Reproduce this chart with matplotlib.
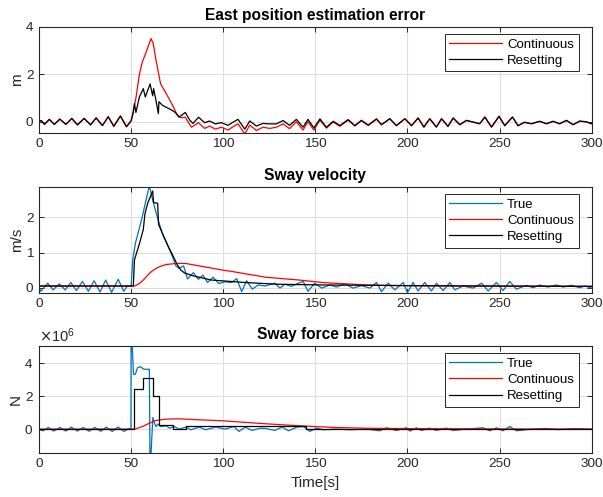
import matplotlib
matplotlib.use("Agg")
import matplotlib.pyplot as plt
from matplotlib.ticker import ScalarFormatter

plt.rcParams['font.family'] = ['Liberation Sans', 'DejaVu Sans']

# ---------------- Panel 1: East position estimation error [m] ----------------
east_cont_t = [0, 1.2, 3, 5.6, 8.3, 11.3, 14.6, 17.8, 20.9, 24.5, 28, 31, 34.4, 37.6, 40.6, 44.2, 47.5, 50,
               51, 52.7, 54.5, 56, 58, 60.8, 62, 63.5, 66, 69, 72.5, 75, 77, 79.4, 82.7, 86.6, 89.9, 92.6,
               95.7, 99, 102.6, 105.3, 108, 111.7, 114.4, 118, 121.6, 125.2, 128.8, 132.5, 136, 139.7,
               143.3, 146, 149.2, 152.5, 156, 159.7, 163.3, 167.8, 171.4, 175, 178.7, 183.2, 185.9, 190.4,
               194, 198.6, 202.2, 205.8, 208.9, 212.1, 215.7, 218.5, 222, 224.8, 228.4, 232, 235.6, 239.2,
               242, 245.6, 249.7, 252.8, 257, 260, 263.6, 267.3, 271.8, 275.4, 279, 282.6, 286.3, 289.9,
               293.5, 297, 300]
east_cont = [0.04, 0.06, -0.1, 0.11, -0.1, 0.12, -0.1, 0.15, -0.12, 0.15, -0.12, 0.17, -0.15, 0.22, -0.18, 0.25, -0.2, 0.05,
             0.35, 1.05, 2.0, 2.5, 2.9, 3.5, 3.3, 2.6, 1.6, 1.2, 0.7, 0.3, 0.18, 0.2, -0.22, -0.03, -0.27, -0.17,
             -0.3, -0.22, -0.34, -0.2, -0.08, -0.5, -0.13, -0.36, -0.22, -0.27, -0.22, -0.08, -0.28, 0.01,
             -0.34, 0.01, -0.34, 0.08, -0.26, 0.0, -0.18, 0.08, -0.17, 0.05, -0.15, 0.12, -0.12, 0.13,
             -0.16, 0.13, -0.16, 0.16, -0.22, 0.13, -0.22, 0.13, -0.19, 0.16, -0.12, 0.06, -0.01, -0.08,
             0.2, -0.22, 0.23, -0.16, 0.2, -0.16, -0.02, -0.08, 0.02, -0.08, 0.02, -0.08, 0.06, -0.12,
             0.03, 0.0, -0.08]

east_reset_t = [0, 1.2, 3, 5.6, 8.3, 11.3, 14.6, 17.8, 20.9, 24.5, 28, 31, 34.4, 37.6, 40.6, 44.2, 47.5, 50,
                51, 51.8, 52.6, 54.5, 56.6, 57.7, 60.3, 61.7, 62.2, 63.5, 64.8, 65.1, 67, 72, 74, 76, 79.4,
                81.8, 83.6, 86.6, 89.9, 92.6, 95.7, 99, 102.6, 105.3, 108, 111.7, 114.4, 118, 121.6, 125.2,
                128.8, 132.5, 136, 139.7, 143.3, 146, 149.2, 152.5, 156, 159.7, 163.3, 167.8, 171.4, 175,
                178.7, 183.2, 185.9, 190.4, 194, 198.6, 202.2, 205.8, 208.9, 212.1, 215.7, 218.5, 222, 224.8,
                228.4, 232, 235.6, 239.2, 242, 245.6, 249.7, 252.8, 257, 260, 263.6, 267.3, 271.8, 275.4,
                279, 282.6, 286.3, 289.9, 293.5, 297, 300]
east_reset = [0.04, 0.06, -0.1, 0.11, -0.1, 0.12, -0.1, 0.15, -0.12, 0.15, -0.12, 0.17, -0.15, 0.22, -0.18, 0.25, -0.2, 0.05,
              0.35, 0.77, 0.4, 1.05, 1.4, 1.05, 1.6, 1.1, 1.4, 0.9, 0.35, 0.85, 0.7, 0.5, 0.4, 0.2, 0.4,
              0.08, -0.06, 0.2, -0.03, 0.04, -0.08, -0.03, -0.14, -0.01, 0.11, -0.3, 0.04, -0.17, -0.06, -0.08,
              -0.08, 0.06, -0.14, 0.11, -0.22, 0.11, -0.25, 0.13, -0.22, 0.03, -0.15, 0.1, -0.15, 0.07,
              -0.13, 0.13, -0.11, 0.14, -0.15, 0.14, -0.15, 0.17, -0.21, 0.14, -0.21, 0.14, -0.18, 0.17,
              -0.11, 0.07, 0.0, -0.07, 0.21, -0.21, 0.24, -0.15, 0.21, -0.15, -0.01, -0.07, 0.03, -0.07,
              0.03, -0.07, 0.07, -0.11, 0.04, 0.01, -0.07]

# ---------------- Panel 2: Sway velocity [m/s] ----------------
vel_true_t = [0, 1, 4.7, 7.7, 11, 14.2, 17.3, 20.3, 23.6, 26.8, 29.9, 33.1, 36.2, 39.4, 43, 46, 47.8, 50,
              50.9, 52.3, 55.9, 57.7, 59.9, 61.7, 64.4, 67, 69.8, 72.5, 74.3, 76, 78.5, 80.6, 83.8, 86.5,
              89, 91.5, 94.5, 97.5, 101, 104.6, 107.3, 110, 112.7, 115.8, 119, 122.7, 128, 130.8, 133.5,
              137, 140.8, 143.4, 146, 149.7, 153.4, 157.9, 161.5, 166, 170.5, 175, 179.6, 183.2, 185.9,
              189.5, 193.1, 197.7, 200, 203, 205.8, 209.4, 213, 215.7, 219.4, 223, 225.7, 230.2, 235.6,
              240.2, 243.8, 248.3, 251.9, 255.5, 259.1, 264.6, 268.2, 271.8, 276.3, 280.8, 284.5, 289,
              293.5, 296.2, 300]
vel_true = [0, -0.1, 0.13, -0.06, 0.11, -0.06, 0.15, -0.08, 0.18, -0.1, 0.2, -0.12, 0.22, -0.13, 0.24, -0.1, 0.04, 0.05,
            0.8, 1.26, 1.98, 2.4, 2.9, 2.49, 1.97, 1.54, 1.21, 0.88, 0.62, 0.55, 0.62, 0.25, 0.43, 0.24,
            0.36, 0.15, 0.3, 0.12, 0.17, 0.15, 0.26, -0.11, 0.2, -0.04, 0.08, 0.05, 0.13, -0.01, 0.1,
            0.04, 0.13, 0.18, -0.1, 0.13, -0.01, 0.08, 0.02, 0.11, -0.01, 0.06, -0.01, 0.15, -0.11,
            0.13, -0.06, 0.15, -0.14, 0.15, -0.09, 0.15, -0.09, 0.13, -0.08, 0.15, -0.06, 0.05, -0.01,
            0.13, -0.09, 0.15, -0.08, 0.18, -0.04, 0.07, 0.0, 0.08, 0.02, 0.08, 0.02, 0.07,
            0.0, 0.05, -0.01]

vel_cont_t = [0, 52, 54.5, 57, 59, 61, 63.5, 66, 69, 74.3, 79.7, 87, 100, 105, 123, 141, 154, 160, 178,
              200, 225, 250, 300]
vel_cont = [0.05, 0.05, 0.12, 0.24, 0.36, 0.46, 0.55, 0.61, 0.66, 0.69, 0.69, 0.62, 0.5, 0.46, 0.3,
            0.22, 0.15, 0.13, 0.08, 0.06, 0.05, 0.045, 0.04]

vel_reset_t = [0, 51.2, 51.8, 54.5, 56.6, 57.5, 59, 61.7, 62.2, 64.4, 64.9, 67, 69.8, 72.5, 75.2, 77,
               79, 83.6, 93.5, 111.6, 129.7, 154, 200, 250, 300]
vel_reset = [0.05, 0.05, 0.79, 1.25, 1.65, 2.1, 2.4, 2.75, 2.42, 2.4, 1.8, 1.54, 1.21, 0.93, 0.64, 0.5,
             0.42, 0.34, 0.22, 0.15, 0.1, 0.08, 0.06, 0.05, 0.04]

# ---------------- Panel 3: Sway force bias [N] (x 1e6) ----------------
force_true_t = [0, 2.3, 5, 8, 11.3, 14.6, 17.6, 20.8, 23.9, 27.2, 30.2, 33.5, 36.5, 39.8, 42.8, 46.2, 48.8, 49.9,
                50.0, 50.6, 51.3, 52.3, 53.5, 55, 57, 59.9, 60.3, 61, 61.8, 62.7, 63.5, 64.5, 66, 69, 71,
                73.4, 76, 79.7, 82.4, 87, 90.5, 96, 101, 105.8, 108.5, 112, 115.6, 120, 123, 128, 132,
                135.4, 140, 143.4, 147, 150.6, 154.3, 161.5, 168.7, 177.8, 185, 188.6, 194, 199.5, 201.3,
                204.9, 207.6, 212.1, 215.7, 221, 224.8, 232, 241, 244.6, 248.3, 251.9, 255.5, 259.1, 268,
                275, 282, 290, 300]
force_true = [-0.04, -0.1, 0.1, -0.12, 0.1, -0.12, 0.12, -0.12, 0.1, -0.13, 0.1, -0.13, 0.12, -0.14, 0.12, -0.14, 0.04, 0.0,
              6.0, 5.0, 3.3, 3.3, 3.7, 3.75, 3.6, 3.6, -3.0, -1.0, 0.7, 0.35, 0.15, 0.3, 0.15, 0.2, 0.05,
              0.16, 0.0, 0.12, -0.04, 0.12, -0.04, 0.12, 0.0, 0.16, -0.14, 0.12, -0.08, 0.05, 0.04, -0.08, 0.12,
              -0.1, 0.12, 0.16, -0.14, 0.06, -0.04, 0.0, -0.04, 0.0, -0.1, 0.08, -0.08, 0.08, -0.12,
              0.08, -0.08, 0.06, -0.08, 0.06, -0.08, 0.0, 0.08, -0.1, 0.08, -0.1, 0.16, -0.1, 0.0,
              0.04, -0.03, 0.03, 0.0]

force_cont_t = [0, 52, 56.3, 60, 63.5, 69, 76, 87, 99.5, 123, 141, 160, 178, 200, 250, 300]
force_cont = [0.0, 0.0, 0.16, 0.36, 0.52, 0.6, 0.62, 0.56, 0.5, 0.32, 0.2, 0.1, 0.05, 0.03, 0.01, 0.0]

force_reset_t = [0, 51.8, 56.7, 62.05, 64.9, 72.5, 79.7, 145, 300]
force_reset = [0.03, 2.44, 3.1, 2.0, 0.26, 0.03, 0.2, 0.03, 0.03]

x_ticks = [0, 50, 100, 150, 200, 250, 300]

BLUE = '#0072BD'
AXC = '#262626'

fig = plt.figure(figsize=(6.03, 4.97), dpi=100)
L, W = 39 / 603, (591.7 - 39) / 603


def ax_at(top_px, bot_px):
    return fig.add_axes([L, 1 - bot_px / 497, W, (bot_px - top_px) / 497])


def style(ax, ylim, yticks, title, ylabel):
    ax.set_xlim(0, 300)
    ax.set_ylim(*ylim)
    ax.set_xticks(x_ticks)
    ax.set_yticks(yticks)
    ax.grid(True, color='#dedede', linewidth=0.8)
    ax.set_axisbelow(True)
    ax.tick_params(direction='in', length=3.5, width=0.7, colors=AXC, labelsize=9.7,
                   top=True, right=True, pad=4)
    for s in ax.spines.values():
        s.set_color(AXC)
        s.set_linewidth(0.8)
    ax.set_title(title, fontsize=11.2, fontweight='bold', pad=5)
    ax.set_ylabel(ylabel, fontsize=11, color=AXC, labelpad=1)


lw = 0.9
ax1 = ax_at(26.7, 132.7)
ax1.plot(east_cont_t, east_cont, color='r', lw=lw, label='Continuous')
ax1.plot(east_reset_t, east_reset, color='k', lw=lw, label='Resetting')
style(ax1, (-0.45, 4), [0, 2, 4], 'East position estimation error', 'm')

ax2 = ax_at(186.7, 292.7)
ax2.plot(vel_true_t, vel_true, color=BLUE, lw=lw, label='True')
ax2.plot(vel_cont_t, vel_cont, color='r', lw=lw, label='Continuous')
ax2.plot(vel_reset_t, vel_reset, color='k', lw=lw, label='Resetting')
style(ax2, (-0.14, 2.87), [0, 1, 2], 'Sway velocity', 'm/s')

ax3 = ax_at(346, 452.7)
ax3.plot(force_true_t, [v * 1e6 for v in force_true], color=BLUE, lw=lw, label='True')
ax3.plot(force_cont_t, [v * 1e6 for v in force_cont], color='r', lw=lw, label='Continuous')
ax3.plot(force_reset_t, [v * 1e6 for v in force_reset], color='k', lw=lw, label='Resetting',
         drawstyle='steps-post')
style(ax3, (-1.42e6, 5e6), [0, 2e6, 4e6], 'Sway force bias', 'N')
fmt = ScalarFormatter(useMathText=True)
fmt.set_powerlimits((0, 0))
ax3.yaxis.set_major_formatter(fmt)
ax3.yaxis.get_offset_text().set_fontsize(10.5)
ax3.yaxis.get_offset_text().set_color(AXC)
ax3.set_xlabel('Time[s]', fontsize=11, color=AXC, labelpad=4)

for ax in (ax1, ax2, ax3):
    leg = ax.legend(loc='upper right', bbox_to_anchor=(0.9765, 0.934), borderaxespad=0,
                    fancybox=False, edgecolor=AXC, framealpha=1, fontsize=9.5,
                    handlelength=4.0, handletextpad=0.4, labelspacing=0.3, borderpad=0.35)
    leg.get_frame().set_linewidth(0.7)

fig.savefig('out.png', dpi=100)
